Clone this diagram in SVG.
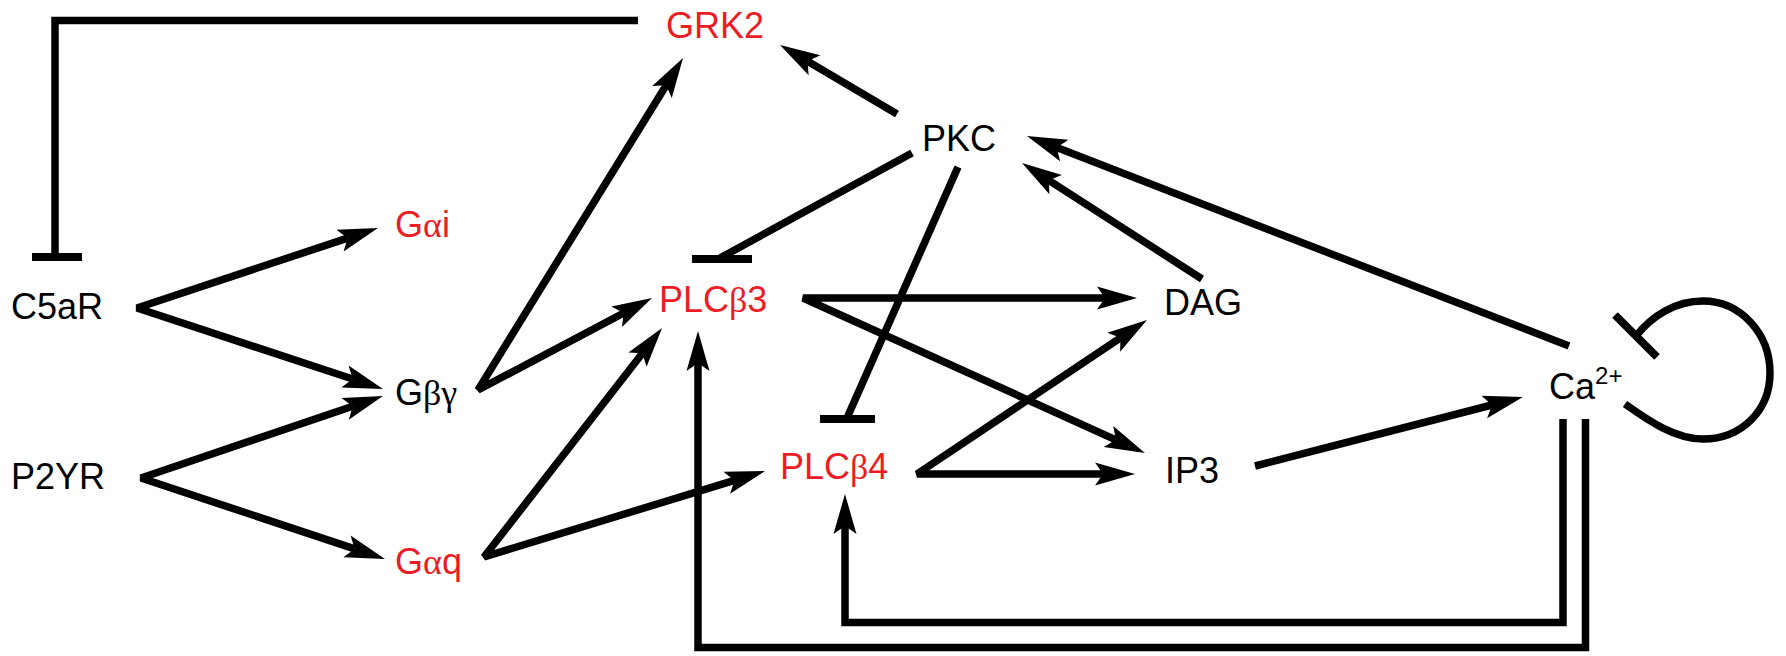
<svg xmlns="http://www.w3.org/2000/svg" width="1786" height="656" viewBox="0 0 1786 656">
<style>
text{font-family:"Liberation Sans",Arial,sans-serif;font-size:36px;fill:#000}
text.r{fill:#ED1C24}
tspan.g{font-family:"Liberation Serif","Times New Roman",serif}
.c{fill:none;stroke:#000;stroke-width:7.5;stroke-linejoin:bevel}
.e{fill:none;stroke:#000;stroke-width:7.5;stroke-linejoin:miter}
.a{marker-end:url(#arr)}
.v{marker-start:url(#arr);marker-end:url(#arr)}
.bar{stroke:#000;stroke-width:8;fill:none}
</style>
<defs>
<marker id="arr" markerUnits="userSpaceOnUse" markerWidth="50" markerHeight="30" viewBox="-10 -15 50 30" refX="0" refY="0" orient="auto-start-reverse" overflow="visible">
<path d="M32,0 L-8,-11.5 L0,0 L-8,11.5 Z" fill="#000"/>
</marker>
</defs>
<rect width="1786" height="656" fill="#fff"/>
<g id="connectors">
<path class="e" d="M638,20.5 H55 V257"/>
<line class="bar" x1="32" y1="257" x2="82" y2="257"/>
<path class="c v" d="M347.6,238.1 L137,308 L352.6,379"/>
<path class="c v" d="M352.7,406.3 L141,478 L354.6,548.9"/>
<path class="c v" d="M666.2,85.2 L478,390 L623.7,313"/>
<path class="c v" d="M642.4,353.3 L484,557 L734.4,480.4"/>
<path class="c a" d="M897,114 L807.6,61.2"/>
<path class="c" d="M912,153 L720,258"/>
<line class="bar" x1="692" y1="259" x2="752" y2="259"/>
<path class="c" d="M958,167 L847,418"/>
<line class="bar" x1="820" y1="419" x2="875" y2="419"/>
<path class="c a" d="M1202,279 L1048.9,180.3"/>
<path class="c a" d="M1569,346 L1056.8,147.6"/>
<path class="c v" d="M1105,298 L803,298 L1115.8,439.8"/>
<path class="c v" d="M1103,474 L917,474 L1120.4,337.8"/>
<path class="c a" d="M1255,466 L1492,405"/>
<path class="e a" d="M1563,419 V622.5 H845 V526"/>
<path class="e a" d="M1585.5,419 V647.5 H698 V363"/>
<path class="c" stroke-width="7" d="M1625,404 C1649,421 1675,439 1703,439 C1742,439 1770,410 1770,373 C1770,333 1740,301 1703,301 C1675,301 1652,316 1636,336"/>
<line class="bar" x1="1615" y1="315" x2="1657" y2="357"/>
</g>
<g id="node-grk2"><text class="r" x="666" y="38">GRK2</text></g>
<g id="node-galphai"><text class="r" x="395" y="237">G<tspan class="g">α</tspan>i</text></g>
<g id="node-c5ar"><text x="11" y="319">C5aR</text></g>
<g id="node-p2yr"><text x="11" y="489">P2YR</text></g>
<g id="node-gbetagamma"><text x="395" y="405">G<tspan class="g">βγ</tspan></text></g>
<g id="node-galphaq"><text class="r" x="395" y="574">G<tspan class="g">α</tspan>q</text></g>
<g id="node-plcb3"><text class="r" x="659" y="312">PLC<tspan class="g">β</tspan>3</text></g>
<g id="node-plcb4"><text class="r" x="780" y="479">PLC<tspan class="g">β</tspan>4</text></g>
<g id="node-pkc"><text x="922" y="151">PKC</text></g>
<g id="node-dag"><text x="1164" y="315">DAG</text></g>
<g id="node-ip3"><text x="1165" y="483">IP3</text></g>
<g id="node-ca"><text x="1549" y="399">Ca<tspan font-size="24" dy="-15">2+</tspan></text></g>
</svg>
